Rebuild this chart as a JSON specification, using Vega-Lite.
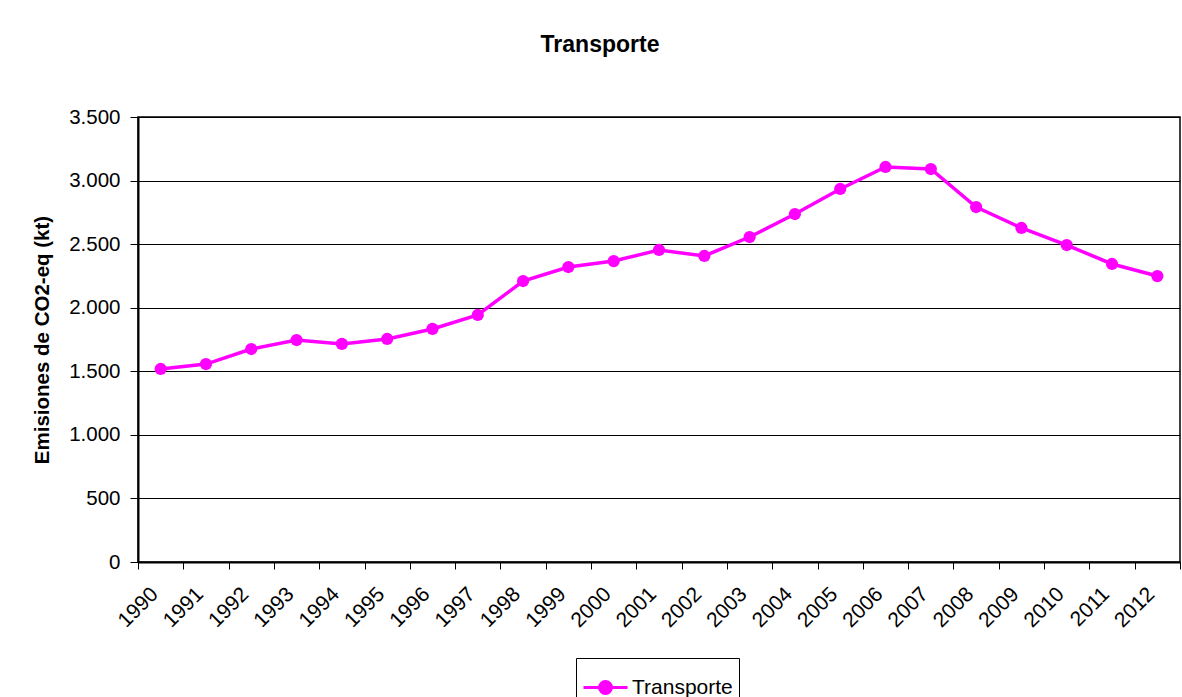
{
  "$schema": "https://vega.github.io/schema/vega-lite/v6.json",
  "autosize": {"type": "none"},
  "width": 1042,
  "height": 445,
  "padding": {"left": 138, "top": 117, "right": 2, "bottom": 135},
  "background": "white",
  "config": {
    "locale": {"number": {"decimal": ",", "thousands": ".", "grouping": [3], "currency": ["", " €"]}},
    "font": "Liberation Sans",
    "view": {"stroke": "black", "strokeWidth": 1.5}
  },
  "title": {
    "text": "Transporte",
    "fontSize": 23,
    "fontWeight": "bold",
    "font": "Liberation Sans",
    "color": "black",
    "anchor": "middle",
    "dx": -59,
    "offset": 50
  },
  "data": {
    "values": [
      {"year": "1990", "value": 1518, "serie": "Transporte"},
      {"year": "1991", "value": 1557, "serie": "Transporte"},
      {"year": "1992", "value": 1675, "serie": "Transporte"},
      {"year": "1993", "value": 1746, "serie": "Transporte"},
      {"year": "1994", "value": 1715, "serie": "Transporte"},
      {"year": "1995", "value": 1754, "serie": "Transporte"},
      {"year": "1996", "value": 1833, "serie": "Transporte"},
      {"year": "1997", "value": 1943, "serie": "Transporte"},
      {"year": "1998", "value": 2210, "serie": "Transporte"},
      {"year": "1999", "value": 2320, "serie": "Transporte"},
      {"year": "2000", "value": 2367, "serie": "Transporte"},
      {"year": "2001", "value": 2454, "serie": "Transporte"},
      {"year": "2002", "value": 2407, "serie": "Transporte"},
      {"year": "2003", "value": 2556, "serie": "Transporte"},
      {"year": "2004", "value": 2737, "serie": "Transporte"},
      {"year": "2005", "value": 2934, "serie": "Transporte"},
      {"year": "2006", "value": 3107, "serie": "Transporte"},
      {"year": "2007", "value": 3091, "serie": "Transporte"},
      {"year": "2008", "value": 2792, "serie": "Transporte"},
      {"year": "2009", "value": 2627, "serie": "Transporte"},
      {"year": "2010", "value": 2493, "serie": "Transporte"},
      {"year": "2011", "value": 2344, "serie": "Transporte"},
      {"year": "2012", "value": 2249, "serie": "Transporte"}
    ]
  },
  "mark": {"type": "line", "strokeWidth": 3.5, "point": {"filled": true, "size": 150, "opacity": 1}},
  "encoding": {
    "x": {
      "field": "year",
      "type": "ordinal",
      "scale": {"type": "band", "paddingInner": 0, "paddingOuter": 0},
      "axis": {
        "title": null,
        "tickBand": "extent",
        "labelAngle": -45,
        "labelFontSize": 21,
        "labelColor": "black",
        "labelFont": "Liberation Sans",
        "domainColor": "black",
        "domainWidth": 2,
        "tickColor": "black",
        "tickSize": 7,
        "labelPadding": 14,
        "labelOffset": -14,
        "grid": false
      }
    },
    "y": {
      "field": "value",
      "type": "quantitative",
      "scale": {"domain": [0, 3500], "nice": false},
      "axis": {
        "title": "Emisiones de CO2-eq (kt)",
        "titleFontSize": 20.5,
        "titleFontWeight": "bold",
        "titleColor": "black",
        "titleFont": "Liberation Sans",
        "titlePadding": 16,
        "values": [0, 500, 1000, 1500, 2000, 2500, 3000, 3500],
        "format": ",d",
        "labelFontSize": 20.5,
        "labelColor": "black",
        "labelFont": "Liberation Sans",
        "labelPadding": 10,
        "domainColor": "black",
        "domainWidth": 2,
        "tickColor": "black",
        "tickSize": 8,
        "grid": true,
        "gridColor": "black",
        "gridWidth": 1,
        "gridOpacity": 1
      }
    },
    "color": {
      "field": "serie",
      "type": "nominal",
      "scale": {"range": ["#FF00FF"]},
      "legend": {
        "title": null,
        "orient": "none",
        "legendX": 438,
        "legendY": 541,
        "strokeColor": "black",
        "fillColor": "white",
        "padding": 6,
        "labelFontSize": 21,
        "labelColor": "black",
        "labelFont": "Liberation Sans",
        "symbolType": "M-1,0H1M-0.27,0A0.27,0.27,0,1,0,0.27,0A0.27,0.27,0,1,0,-0.27,0Z",
        "symbolSize": 1936,
        "symbolStrokeWidth": 3,
        "labelOffset": 3,
        "encode": {
          "symbols": {"update": {"fill": {"value": "#FF00FF"}, "stroke": {"value": "#FF00FF"}, "strokeWidth": {"value": 3}}}
        }
      }
    }
  }
}
